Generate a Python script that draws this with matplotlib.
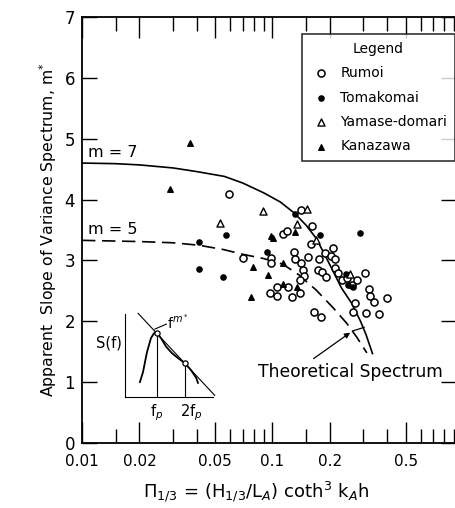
import matplotlib.pyplot as plt

plt.rcParams['font.family'] = ['DejaVu Sans']
plt.rcParams['mathtext.fontset'] = 'dejavusans'

# observed slopes m* against Pi_1/3, one pair of lists per station
rumoi_x = [0.059, 0.070, 0.113, 0.119, 0.098, 0.098, 0.129, 0.132, 0.142, 0.153,
           0.142, 0.162, 0.159, 0.144, 0.147, 0.140, 0.140, 0.105, 0.120, 0.097,
           0.105, 0.126, 0.175, 0.188, 0.202, 0.209, 0.212, 0.173, 0.183, 0.190,
           0.212, 0.220, 0.231, 0.245, 0.261, 0.277, 0.305, 0.320, 0.324, 0.340,
           0.398, 0.270, 0.264, 0.309, 0.361, 0.166, 0.179]
rumoi_y = [4.09, 3.04, 3.43, 3.48, 3.04, 2.96, 3.14, 3.02, 2.96, 3.05,
           3.83, 3.56, 3.27, 2.84, 2.74, 2.68, 2.46, 2.56, 2.56, 2.46,
           2.41, 2.40, 3.02, 3.12, 3.07, 3.20, 3.02, 2.84, 2.81, 2.73,
           2.87, 2.79, 2.68, 2.71, 2.59, 2.68, 2.79, 2.53, 2.41, 2.32,
           2.38, 2.30, 2.15, 2.13, 2.12, 2.15, 2.07]

toma_x = [0.041, 0.041, 0.055, 0.057, 0.094, 0.132, 0.177, 0.287, 0.242, 0.248, 0.264]
toma_y = [3.30, 2.86, 2.73, 3.42, 3.14, 3.76, 3.42, 3.45, 2.78, 2.59, 2.56]

yama_x = [0.053, 0.089, 0.134, 0.151, 0.170, 0.254]
yama_y = [3.61, 3.81, 3.60, 3.84, 3.33, 2.78]

kana_x = [0.029, 0.037, 0.077, 0.079, 0.095, 0.098, 0.101, 0.114, 0.113, 0.131, 0.135]
kana_y = [4.17, 4.93, 2.40, 2.89, 2.76, 3.40, 3.37, 2.96, 2.61, 3.46, 2.56]

# theoretical curves
m7_x = [0.01, 0.015, 0.02, 0.03, 0.04, 0.056, 0.07, 0.09, 0.11, 0.13,
        0.15, 0.17, 0.20, 0.23, 0.26, 0.29, 0.31, 0.335]
m7_y = [4.60, 4.59, 4.57, 4.52, 4.46, 4.38, 4.27, 4.11, 3.96, 3.78,
        3.58, 3.36, 2.93, 2.55, 2.30, 2.00, 1.78, 1.47]
m5_x = [0.01, 0.02, 0.03, 0.041, 0.055, 0.07, 0.09, 0.113, 0.138, 0.17,
        0.207, 0.245, 0.277, 0.313]
m5_y = [3.33, 3.31, 3.29, 3.25, 3.18, 3.10, 3.03, 2.94, 2.76, 2.51,
        2.23, 1.97, 1.74, 1.48]

# sketch of a spectrum for the inset
spec_u = [0.17, 0.205, 0.25, 0.295, 0.33, 0.364, 0.41, 0.466, 0.534, 0.614,
          0.68, 0.75, 0.81, 0.83]
spec_v = [0.18, 0.30, 0.54, 0.71, 0.77, 0.77, 0.71, 0.61, 0.53, 0.46,
          0.41, 0.325, 0.23, 0.17]

xticks = [0.01, 0.02, 0.05, 0.1, 0.2, 0.5]
xticklabels = ['0.01', '0.02', '0.05', '0.1', '0.2', '0.5']
xminor = [0.015, 0.03, 0.04, 0.06, 0.07, 0.08, 0.09, 0.15, 0.3, 0.4,
          0.6, 0.7, 0.8, 0.9]

fig = plt.figure(figsize=(4.56, 5.08), dpi=100)
ax = fig.add_axes([0.180, 0.128, 0.820, 0.8385])
ax.set_xscale('log')
ax.set_xlim(0.01, 0.92)
ax.set_ylim(0, 7)

ax.set_xticks(xticks)
ax.set_xticklabels(xticklabels)
ax.set_xticks(xminor, minor=True)
ax.set_xticklabels([], minor=True)
ax.set_yticks(range(8))
ax.tick_params(axis='x', which='major', direction='in', length=15, width=1,
               top=True, labelsize=11, pad=8)
ax.tick_params(axis='x', which='minor', direction='in', length=10, width=1, top=True)
ax.tick_params(axis='y', direction='in', length=11, width=1, right=True,
               labelsize=12, pad=5)
ax.spines['right'].set_visible(False)
for s in ['left', 'bottom', 'top']:
    ax.spines[s].set_linewidth(1.3)

ax.plot(m7_x, m7_y, color='black', lw=1.2)
ax.plot(m5_x, m5_y, color='black', lw=1.2, dashes=(8, 4))

ms = 26
ax.scatter(rumoi_x, rumoi_y, s=ms, facecolors='white', edgecolors='black',
           linewidths=1.1, label='Rumoi', zorder=3)
ax.scatter(toma_x, toma_y, s=14, color='black', label='Tomakomai', zorder=3)
ax.scatter(yama_x, yama_y, s=ms, marker='^', facecolors='white', edgecolors='black',
           linewidths=1.0, label='Yamase-domari', zorder=3)
ax.scatter(kana_x, kana_y, s=16, marker='^', color='black', label='Kanazawa', zorder=3)

ax.text(0.0107, 4.78, 'm = 7', fontsize=11.5, va='center')
ax.text(0.0107, 3.50, 'm = 5', fontsize=11.5, va='center')
ax.text(0.0844, 1.17, 'Theoretical Spectrum', fontsize=12.3, va='center')
ax.annotate('', xy=(0.263, 1.84), xytext=(0.160, 1.36),
            arrowprops=dict(arrowstyle='-|>', color='black', lw=0.9,
                            mutation_scale=8))
ax.plot([0.263, 0.303], [1.84, 1.90], color='black', lw=0.9)

leg = ax.legend(title='Legend', loc='upper right', bbox_to_anchor=(0.997, 0.96),
                borderaxespad=0, fontsize=10, title_fontsize=10, frameon=True,
                fancybox=False, edgecolor='black', labelspacing=0.75,
                handletextpad=0.6, handlelength=1.6, borderpad=0.55)
leg.get_frame().set_linewidth(1.2)

ax.set_ylabel('Apparent  Slope of Variance Spectrum, m$^{*}$', fontsize=11.3, labelpad=4)
ax.set_xlabel(r'$\Pi_{1/3}$ = (H$_{1/3}$/L$_{A}$) coth$^{3}$ k$_{A}$h', fontsize=13)
ax.xaxis.set_label_coords(0.465, -0.085)

# inset sketch of S(f)
ins = fig.add_axes([0.274, 0.2185, 0.193, 0.163])
ins.set_xlim(0, 1)
ins.set_ylim(0, 1)
ins.patch.set_alpha(0)
ins.set_xticks([])
ins.set_yticks([])
for s in ['top', 'right']:
    ins.spines[s].set_visible(False)
ins.plot(spec_u, spec_v, color='black', lw=1.3)
ins.plot([0.15, 1.02], [1.01, 0.02], color='black', lw=0.8, clip_on=False)
ins.plot([0.364, 0.364], [0, 0.77], color='black', lw=0.8)
ins.plot([0.68, 0.68], [0, 0.41], color='black', lw=0.8)
ins.scatter([0.364, 0.68], [0.77, 0.41], s=14, facecolors='white',
            edgecolors='black', linewidths=0.9, zorder=3, clip_on=False)
ins.plot([0.34, 0.47], [0.82, 0.88], color='black', lw=0.8)
ins.text(0.48, 0.90, r'f$^{m^*}$', fontsize=10, va='center')
ins.text(-0.04, 0.65, 'S(f)', fontsize=10.5, ha='right', va='center')
ins.text(0.364, -0.06, 'f$_p$', fontsize=10.5, ha='center', va='top')
ins.text(0.75, -0.06, '2f$_p$', fontsize=10.5, ha='center', va='top')

fig.savefig('out.png', dpi=100)
